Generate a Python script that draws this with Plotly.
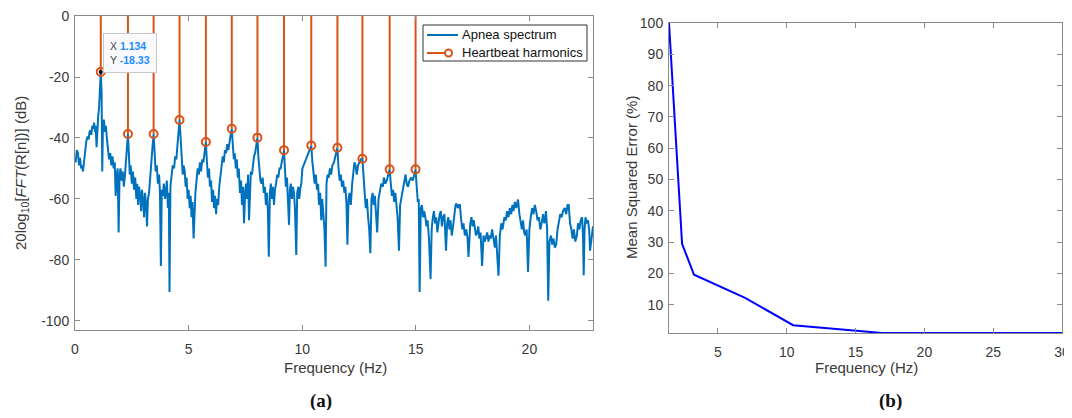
import plotly.graph_objects as go

# ---------------- data: panel (a) apnea spectrum ----------------
spec_freq = [
    0.00, 0.03, 0.08, 0.13, 0.18, 0.22, 0.27, 0.31, 0.35, 0.40, 0.45, 0.50, 0.55, 0.60, 0.64, 0.68,
    0.72, 0.76, 0.80, 0.84, 0.88, 0.91, 0.95, 0.98, 1.02, 1.06, 1.10, 1.134, 1.17, 1.20, 1.23, 1.27,
    1.32, 1.36, 1.40, 1.45, 1.50, 1.55, 1.60, 1.65, 1.70, 1.75, 1.79, 1.84, 1.88, 1.92, 1.96, 2.00,
    2.05, 2.10, 2.15, 2.20, 2.25, 2.29, 2.33, 2.37, 2.41, 2.45, 2.50, 2.55, 2.60, 2.65, 2.70, 2.74,
    2.78, 2.82, 2.87, 2.91, 2.95, 3.00, 3.04, 3.08, 3.13, 3.17, 3.21, 3.26, 3.30, 3.35, 3.40, 3.46,
    3.50, 3.55, 3.60, 3.65, 3.70, 3.74, 3.78, 3.82, 3.87, 3.91, 3.96, 4.00, 4.04, 4.09, 4.13, 4.16,
    4.20, 4.25, 4.30, 4.36, 4.41, 4.46, 4.50, 4.55, 4.60, 4.65, 4.70, 4.74, 4.78, 4.83, 4.87, 4.91,
    4.96, 5.00, 5.05, 5.09, 5.13, 5.17, 5.22, 5.26, 5.30, 5.35, 5.40, 5.45, 5.50, 5.55, 5.60, 5.65,
    5.70, 5.76, 5.80, 5.85, 5.90, 5.94, 5.99, 6.03, 6.08, 6.12, 6.16, 6.21, 6.25, 6.30, 6.35, 6.40,
    6.45, 6.50, 6.55, 6.60, 6.65, 6.70, 6.75, 6.80, 6.85, 6.90, 6.94, 6.99, 7.03, 7.08, 7.12, 7.17,
    7.21, 7.26, 7.31, 7.35, 7.40, 7.44, 7.49, 7.53, 7.57, 7.62, 7.66, 7.70, 7.74, 7.79, 7.84, 7.88,
    7.93, 7.98, 8.03, 8.07, 8.12, 8.16, 8.21, 8.26, 8.31, 8.36, 8.40, 8.45, 8.49, 8.53, 8.58, 8.62,
    8.67, 8.71, 8.76, 8.80, 8.85, 8.90, 8.95, 9.00, 9.05, 9.10, 9.15, 9.20, 9.24, 9.28, 9.33, 9.37,
    9.42, 9.46, 9.50, 9.55, 9.59, 9.64, 9.68, 9.74, 9.78, 9.83, 9.87, 9.91, 9.96, 10.01, 10.06, 10.11,
    10.17, 10.22, 10.28, 10.34, 10.40, 10.45, 10.50, 10.55, 10.60, 10.65, 10.70, 10.74, 10.79, 10.84, 10.88, 10.93,
    10.98, 11.03, 11.07, 11.12, 11.17, 11.22, 11.27, 11.33, 11.40, 11.46, 11.55, 11.60, 11.65, 11.70, 11.75, 11.80,
    11.86, 11.90, 11.95, 11.99, 12.04, 12.09, 12.14, 12.20, 12.25, 12.30, 12.35, 12.40, 12.46, 12.52, 12.58, 12.65,
    12.70, 12.75, 12.80, 12.85, 12.90, 12.95, 13.00, 13.05, 13.10, 13.15, 13.20, 13.25, 13.30, 13.36, 13.42, 13.48,
    13.55, 13.60, 13.66, 13.72, 13.79, 13.85, 13.90, 13.95, 14.00, 14.05, 14.10, 14.15, 14.20, 14.26, 14.31, 14.36,
    14.41, 14.46, 14.51, 14.55, 14.60, 14.66, 14.72, 14.80, 14.87, 14.93, 14.99, 15.04, 15.09, 15.13, 15.17, 15.22,
    15.27, 15.32, 15.37, 15.42, 15.47, 15.52, 15.58, 15.65, 15.70, 15.75, 15.80, 15.85, 15.90, 15.95, 16.00, 16.05,
    16.10, 16.15, 16.20, 16.26, 16.33, 16.38, 16.43, 16.48, 16.53, 16.58, 16.64, 16.70, 16.75, 16.79, 16.85, 16.90,
    16.94, 17.00, 17.05, 17.10, 17.16, 17.22, 17.28, 17.32, 17.36, 17.40, 17.45, 17.50, 17.55, 17.60, 17.65, 17.70,
    17.75, 17.80, 17.85, 17.92, 17.98, 18.03, 18.08, 18.14, 18.20, 18.25, 18.30, 18.36, 18.42, 18.48, 18.53, 18.58,
    18.64, 18.70, 18.76, 18.82, 18.90, 18.96, 19.02, 19.08, 19.14, 19.20, 19.25, 19.30, 19.36, 19.42, 19.50, 19.56,
    19.62, 19.67, 19.72, 19.77, 19.82, 19.88, 19.94, 20.00, 20.06, 20.12, 20.18, 20.24, 20.30, 20.36, 20.42, 20.48,
    20.54, 20.60, 20.66, 20.73, 20.78, 20.83, 20.88, 20.95, 21.00, 21.06, 21.12, 21.18, 21.24, 21.30, 21.36, 21.42,
    21.48, 21.56, 21.62, 21.68, 21.73, 21.79, 21.85, 21.90, 21.96, 22.02, 22.09, 22.14, 22.20, 22.26, 22.32, 22.36,
    22.39, 22.43, 22.47, 22.52, 22.58, 22.63, 22.67, 22.72, 22.80,
]
spec_db = [
    -47, -48, -44, -45, -49, -46.5, -50, -49, -51, -47, -44, -41, -39.5, -40.5, -38, -37.5,
    -39, -36, -37, -35, -38, -36, -43, -35, -33, -30, -24, -18.33, -25, -51, -36, -34,
    -38, -36, -40, -43, -47, -45, -49, -46, -50, -48, -59, -52, -50, -71, -53, -50,
    -54, -51, -56, -52, -47, -43, -38.7, -45, -52, -49, -55, -51, -57, -53, -60, -55,
    -62, -56, -59, -64, -57, -61, -66, -58, -62, -69, -60, -58, -53, -48, -44, -38.7,
    -45, -51, -49, -55, -52, -58, -82, -57, -59, -55, -60, -58, -54, -63, -58, -90.5,
    -56, -52, -49, -50, -46, -47, -43, -39, -34.1, -40, -47, -52, -49, -51, -56, -53,
    -60, -57, -63, -59, -66, -61, -73, -63, -58, -54, -50, -52, -48, -51, -47, -48,
    -45, -41.3, -47, -53, -50, -56, -54, -61, -57, -63, -59, -65, -60, -62, -56, -53,
    -50, -46, -48, -44, -45, -42, -44, -41, -39, -37.0, -42, -47, -45, -50, -47, -53,
    -50, -58, -54, -62, -56, -68, -58, -55, -60, -52, -67, -55, -51, -52, -47, -46,
    -45, -43, -39.9, -46, -52, -54, -55, -53, -58, -56, -62, -58, -64, -79, -58, -55,
    -60, -56, -62, -57, -55, -52, -53, -50, -50, -47, -46, -44.0, -50, -56, -53, -59,
    -68.5, -57, -55, -60, -56, -58, -63, -78.4, -58, -56, -60, -57, -55, -50, -49, -48,
    -47, -46, -45, -44, -42.5, -48, -53, -55, -52, -57, -55, -62, -58, -67, -60, -65,
    -70, -82.2, -55, -52, -53, -50, -52, -49, -48, -46, -43.2, -50, -54, -52, -56, -54,
    -58, -56, -62, -75, -60, -58, -62, -55, -50, -48, -49, -52, -49, -48, -47, -46.8,
    -55, -58, -63, -60, -66, -70, -77.8, -60, -58, -62, -59, -64, -71, -60, -57, -55,
    -56, -53, -55, -54, -52, -50.3, -55, -59, -57, -61, -58, -63, -66, -77, -62, -60,
    -58, -56, -53, -52, -55, -56, -54, -53, -54, -52, -50.3, -56, -61, -60, -90.5, -63,
    -62, -66, -64, -66, -69, -67, -73, -86.3, -70, -66, -64, -68, -66, -71, -67, -65,
    -64, -69, -66, -65, -77, -68, -66, -70, -67, -72, -69, -65, -62, -61.5, -63, -62,
    -62, -67, -70, -68, -72, -70, -73, -79, -71, -68, -66, -69, -67, -70, -72, -71,
    -69, -73, -71, -82, -72, -74, -73, -71, -74, -72, -73, -70, -74, -76, -72, -80,
    -85.2, -72, -68, -70, -66, -67, -64, -66, -63, -65, -62, -64, -61, -63, -60.2, -65,
    -68, -70, -67, -71, -72, -70, -84, -70, -66, -63, -65, -62, -64, -67, -66, -70,
    -68, -65, -68, -64, -70, -93.4, -74, -72, -75, -73, -76, -75, -70, -67, -65, -66,
    -64, -63, -65, -62, -62, -68, -70, -73, -70, -74, -72, -68, -70, -67, -66, -72,
    -85, -70, -66, -68, -67, -70, -77, -74, -69,
]

# heartbeat harmonics (stems)
harm_freq = [1.134, 2.33, 3.46, 4.60, 5.76, 6.90, 8.03, 9.20, 10.40, 11.55, 12.65, 13.85, 14.99]
harm_db = [-18.33, -38.7, -38.7, -34.1, -41.3, -37.0, -39.9, -44.0, -42.5, -43.2, -46.8, -50.3, -50.3]

# datatip
tip_x = 1.134
tip_y = -18.33

# legend entries
legend_names = ["Apnea spectrum", "Heartbeat harmonics"]

# axis ticks
a_xticks = [0, 5, 10, 15, 20]
a_yticks = [-100, -80, -60, -40, -20, 0]

# ---------------- data: panel (b) mean squared error ----------------
mse_freq = [1.44, 2.39, 3.26, 6.97, 10.46, 16.93, 30.0]
mse_val = [100.0, 29.5, 19.6, 12.2, 3.5, 1.0, 1.0]
b_xticks = [5, 10, 15, 20, 25, 30]
b_yticks = [10, 20, 30, 40, 50, 60, 70, 80, 90, 100]

# ---------------- styling ----------------
BLUE = "#0072BD"
ORANGE = "#D95319"
AXC = "#8a8a8a"
TXT = "#3a3a3a"
FONT = "Liberation Sans, Arial, sans-serif"

# the page has an 8px body margin: size the figure so it fits the 1072x418 window
OFF = 8
W, H = 1072 - OFF, 418 - 2 * OFF


def px(xp):
    return (xp - OFF) / W


def py(yp):
    return 1 - (yp - OFF) / H


fig = go.Figure()

fig.add_trace(go.Scatter(
    x=spec_freq, y=spec_db, mode="lines", name=legend_names[0],
    line=dict(color=BLUE, width=2), xaxis="x", yaxis="y",
))

# stems built from harmonic data
stem_x, stem_y = [], []
for f, v in zip(harm_freq, harm_db):
    stem_x += [f, f, None]
    stem_y += [0, v, None]
fig.add_trace(go.Scatter(
    x=stem_x, y=stem_y, mode="lines", line=dict(color=ORANGE, width=2),
    xaxis="x", yaxis="y", hoverinfo="skip", name=legend_names[1],
))
fig.add_trace(go.Scatter(
    x=harm_freq, y=harm_db, mode="markers", name=legend_names[1],
    marker=dict(symbol="circle-open", size=8, color=ORANGE, line=dict(width=2, color=ORANGE)),
    xaxis="x", yaxis="y",
))
# datatip dot
fig.add_trace(go.Scatter(
    x=[tip_x], y=[tip_y], mode="markers", marker=dict(color="black", size=4),
    xaxis="x", yaxis="y",
))

fig.add_trace(go.Scatter(
    x=mse_freq, y=mse_val, mode="lines", line=dict(color="#0000FF", width=2),
    xaxis="x2", yaxis="y2",
))

axis_common = dict(
    showline=True, linecolor=AXC, linewidth=1, mirror="ticks", ticks="inside",
    ticklen=5, tickcolor=AXC, showgrid=False, zeroline=False, automargin=False,
    ticklabeloverflow="allow",
    tickfont=dict(family=FONT, size=14, color=TXT),
)


def labels(vals):
    return [str(v) for v in vals]


fig.update_layout(
    template="none",
    width=W, height=H, margin=dict(l=0, r=0, t=0, b=0, autoexpand=False),
    paper_bgcolor="white", plot_bgcolor="white",
    font=dict(family=FONT, color=TXT),
    showlegend=False,
    xaxis=dict(domain=[px(75), px(593)], range=[0, 22.8], tickvals=a_xticks, ticktext=labels(a_xticks),
               ticklabelstandoff=6, anchor="y", **axis_common),
    yaxis=dict(domain=[py(330), py(16)], range=[-103, 0.01],
               tickvals=a_yticks, ticktext=labels(a_yticks), ticklabelstandoff=2,
               anchor="x", **axis_common),
    xaxis2=dict(domain=[px(669), px(1062)], range=[1.44, 30], tickvals=b_xticks, ticktext=labels(b_xticks),
                ticklabelstandoff=6, anchor="y2", **axis_common),
    yaxis2=dict(domain=[py(333), py(23)], range=[1, 100],
                tickvals=b_yticks, ticktext=labels(b_yticks), ticklabelstandoff=2,
                anchor="x2", **axis_common),
)

# ---- legend box (MATLAB style) ----
shapes = [
    dict(type="rect", xref="paper", yref="paper", x0=px(423), x1=px(587), y0=py(61), y1=py(25),
         fillcolor="white", line=dict(color="#333333", width=1), layer="above"),
    dict(type="line", xref="paper", yref="paper", x0=px(427), x1=px(458), y0=py(35), y1=py(35),
         line=dict(color=BLUE, width=2), layer="above"),
    dict(type="line", xref="paper", yref="paper", x0=px(427), x1=px(446), y0=py(53), y1=py(53),
         line=dict(color=ORANGE, width=2), layer="above"),
    dict(type="circle", xref="paper", yref="paper", x0=px(445), x1=px(452), y0=py(56.5), y1=py(49.5),
         line=dict(color=ORANGE, width=2), fillcolor="white", layer="above"),
]
fig.update_layout(shapes=shapes)
for name, yp in zip(legend_names, [35, 53]):
    fig.add_annotation(
        x=px(460), y=py(yp), xref="paper", yref="paper", xanchor="left", yanchor="middle",
        showarrow=False, text=name, font=dict(family=FONT, size=13, color="#111111"),
    )

# axis titles
titles = [
    ("Frequency (Hz)", 335, 367, 0),
    ("20log<sub>10</sub>[<i>FFT</i>(R[n])] (dB)", 22, 173, -90),
    ("Frequency (Hz)", 866, 367, 0),
    ("Mean Squared Error (%)", 632, 178, -90),
]
for txt, xp, yp, ang in titles:
    fig.add_annotation(
        x=px(xp), y=py(yp), xref="paper", yref="paper", xanchor="center", yanchor="middle",
        showarrow=False, text=txt, textangle=ang,
        font=dict(family=FONT, size=15, color=TXT),
    )

fig.add_annotation(
    x=1.23, y=-5.6, xref="x", yref="y", xanchor="left", yanchor="top", showarrow=False,
    align="left",
    text=("<span style='color:#444444'>X </span><b><span style='color:#1a8cff'>1.134</span></b><br>"
          "<span style='color:#444444'>Y </span><b><span style='color:#1a8cff'>-18.33</span></b>"),
    font=dict(family=FONT, size=10.5),
    bgcolor="#fafafc", bordercolor="#c8c8c8", borderwidth=1, borderpad=6,
)

for label, xc in [("(a)", 321), ("(b)", 890)]:
    fig.add_annotation(
        x=px(xc), y=py(401), xref="paper", yref="paper", xanchor="center", yanchor="middle",
        showarrow=False, text=f"<b>{label}</b>",
        font=dict(family="Liberation Serif, DejaVu Serif, serif", size=19, color="#111111"),
    )

fig.write_html("out.html")
